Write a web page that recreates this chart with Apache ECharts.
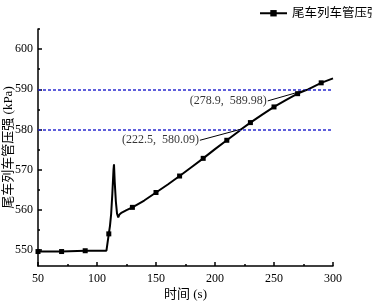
<!DOCTYPE html>
<html>
<head>
<meta charset="utf-8">
<script src="https://cdn.jsdelivr.net/npm/echarts@6/dist/echarts.min.js"></script>
<style>
  html, body { margin: 0; padding: 0; background: #fff; }
  #main { width: 372px; height: 302px; }
</style>
</head>
<body>
<div id="main"></div>
<script>
// 时间 (s) 与 尾车列车管压强 (kPa)
var times = [50, 70, 90, 108, 110, 111, 112, 113, 114, 114.4, 115, 116, 117, 118, 119, 121, 125, 130, 140, 150, 160, 170, 180, 190, 200, 210, 220, 222.5, 230, 240, 250, 260, 270, 278.9, 290, 300]
var pressure = [549.6, 549.6, 549.8, 549.8, 554, 556, 559, 564, 570, 571.3, 567, 562, 559, 558.1, 558.8, 559.3, 559.9, 560.6, 562.3, 564.3, 566.3, 568.4, 570.6, 572.8, 575.1, 577.3, 579.5, 580.09, 581.7, 583.7, 585.6, 587.3, 588.9, 589.98, 591.6, 592.7]
// 带方块标记的时刻
var markerTimes = [50, 70, 90, 110, 130, 150, 170, 190, 210, 230, 250, 270, 290]
var refLines = [590, 580]
var yMajorTicks = [550, 560, 570, 580, 590, 600]
var yMinorTicks = [555, 565, 575, 585, 595, 605]
// 标注：点坐标 + 文字位置
var notes = [
  { x: 278.9, y: 589.98, tx: 244.7, ty: 587.1 },
  { x: 222.5, y: 580.09, tx: 187.2, ty: 577.3 }
]

var serif = "'Liberation Serif', 'Noto Sans CJK SC', serif"

var lineData = times.map(function (t, i) {
  var item = { value: [t, pressure[i]] }
  if (markerTimes.indexOf(t) < 0) item.symbol = 'none'
  return item
})

var markLineData = refLines.map(function (v) {
  return { yAxis: v, lineStyle: { color: '#2a2ad0', type: [3, 2], width: 1.5 } }
})
notes.forEach(function (n) {
  markLineData.push([
    { coord: [n.tx, n.ty], lineStyle: { color: '#000', type: 'solid', width: 1 } },
    { coord: [n.x, n.y] }
  ])
})

var myChart = echarts.init(document.getElementById('main'))
myChart.setOption({
  animation: false,
  grid: {
    left: 38,
    right: 39,
    top: 29,
    bottom: 36,
    outerBoundsMode: 'none',
    containLabel: false
  },
  legend: {
    left: 254,
    top: 2,
    itemWidth: 27,
    itemHeight: 8,
    itemGap: 4,
    textStyle: {
      fontFamily: serif,
      fontSize: 12.5,
      color: '#000'
    },
    data: ['尾车列车管压强']
  },
  xAxis: {
    type: 'value',
    min: 50,
    max: 300,
    interval: 50,
    name: '时间 (s)',
    nameLocation: 'middle',
    nameGap: 22,
    nameMoveOverlap: false,
    nameTextStyle: {
      fontFamily: serif,
      fontSize: 13,
      color: '#000'
    },
    axisLine: {
      lineStyle: { color: '#000', width: 1.5 }
    },
    axisTick: {
      inside: true,
      length: 4,
      lineStyle: { color: '#000', width: 1.5 }
    },
    minorTick: {
      show: true,
      splitNumber: 2,
      length: 2,
      lineStyle: { color: '#000', width: 1.5 }
    },
    axisLabel: {
      fontFamily: serif,
      fontSize: 12,
      color: '#000',
      margin: 7
    },
    splitLine: { show: false }
  },
  yAxis: [
    {
      type: 'value',
      min: 546,
      max: 605,
      name: '尾车列车管压强 (kPa)',
      nameLocation: 'middle',
      nameGap: 23,
      nameMoveOverlap: false,
      nameTextStyle: {
        fontFamily: serif,
        fontSize: 13,
        color: '#000'
      },
      axisLine: {
        show: true,
        lineStyle: { color: '#000', width: 1.5 }
      },
      axisTick: {
        show: true,
        inside: true,
        length: 4,
        customValues: yMajorTicks,
        lineStyle: { color: '#000', width: 1.5 }
      },
      axisLabel: {
        customValues: yMajorTicks,
        fontFamily: serif,
        fontSize: 12,
        color: '#000',
        margin: 5
      },
      splitLine: { show: false }
    },
    {
      type: 'value',
      position: 'left',
      min: 546,
      max: 605,
      axisLine: { show: false },
      axisTick: {
        show: true,
        inside: true,
        length: 2,
        customValues: yMinorTicks,
        lineStyle: { color: '#000', width: 1.5 }
      },
      axisLabel: { show: false },
      splitLine: { show: false }
    }
  ],
  series: [
    {
      name: '尾车列车管压强',
      type: 'line',
      data: lineData,
      symbol: 'rect',
      symbolSize: 5,
      showAllSymbol: true,
      itemStyle: { color: '#000' },
      lineStyle: { color: '#000', width: 2 },
      z: 3,
      markLine: {
        silent: true,
        symbol: 'none',
        label: { show: false },
        data: markLineData
      }
    },
    {
      type: 'scatter',
      symbolSize: 0,
      data: notes.map(function (n) { return [n.tx, n.ty] }),
      label: {
        show: true,
        position: 'left',
        distance: 1,
        fontFamily: serif,
        fontSize: 12,
        color: '#000',
        formatter: function (p) {
          var n = notes[p.dataIndex]
          return '(' + n.x + ',  ' + n.y.toFixed(2) + ')'
        }
      },
      silent: true
    }
  ]
})
</script>
</body>
</html>
